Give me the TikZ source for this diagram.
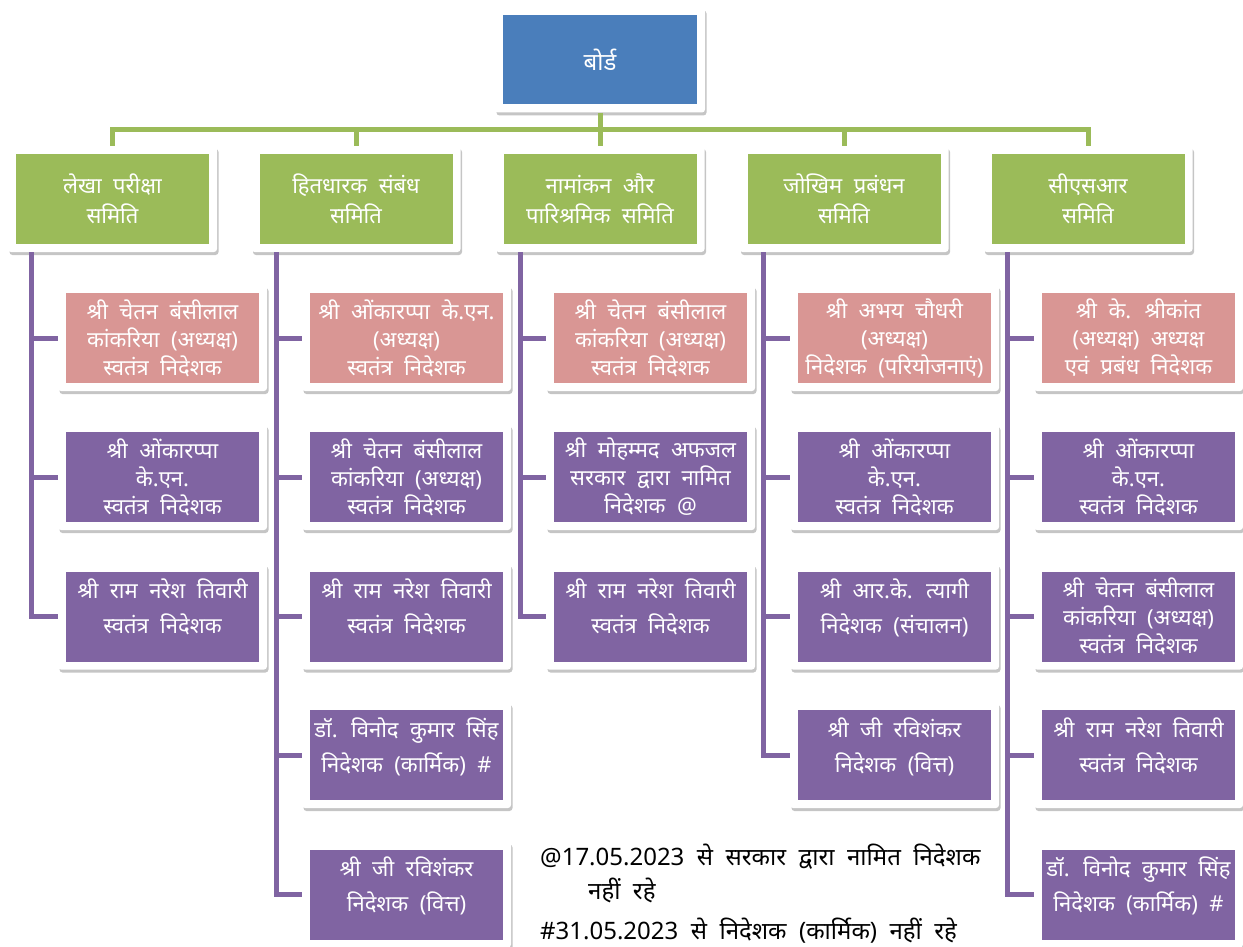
\documentclass[tikz,border=0pt]{standalone}
\usepackage{fontspec}
\setmainfont[Script=Devanagari, WordSpace=2]{Noto Sans}
\usetikzlibrary{shadows,calc}
\definecolor{bblue}{HTML}{4A7EBB}
\definecolor{cgreen}{HTML}{9BBB59}
\definecolor{mpink}{HTML}{D99694}
\definecolor{mpurple}{HTML}{8064A2}
\tikzset{
 frame/.style={fill=white, rounded corners=3pt,
   drop shadow={shadow xshift=1.5pt, shadow yshift=-3pt, opacity=0.45},
   minimum width=209pt, minimum height=106pt, inner sep=0pt, text=white,
   align=center, font=\fontsize{22}{28}\selectfont},
 fillin/.style={path picture={\fill[#1, sharp corners]
   ([shift={(8pt,8pt)}]path picture bounding box.south west) rectangle
   ([shift={(-8pt,-8pt)}]path picture bounding box.north east);}},
 boardbox/.style={frame, fillin=bblue, minimum width=210pt, minimum height=105pt,
   font=\fontsize{24}{30}\selectfont},
 comm/.style={frame, fillin=cgreen, font=\fontsize{22}{30}\selectfont},
 chair/.style={frame, fillin=mpink},
 memb/.style={frame, fillin=mpurple},
 two/.style={font=\fontsize{22}{35}\selectfont, text depth=20pt},
 gline/.style={draw=cgreen, line width=5pt},
 pline/.style={draw=mpurple, line width=5pt},
 note/.style={anchor=west, inner sep=0pt, text=black, font=\fontsize{24}{28}\selectfont},
}
\begin{document}
\begin{tikzpicture}[x=1pt, y=-1pt]
\useasboundingbox (0,0) rectangle (1243,947);
\clip (0,0) rectangle (1243,947);
\fill[white] (0,0) rectangle (1243,947);

% board
\node[boardbox] (board) at (600,60) {बोर्ड};

% committees
\node[comm] (c1) at (112.5,199) {लेखा परीक्षा\\समिति};
\node[comm] (c2) at (356,199) {हितधारक संबंध\\समिति};
\node[comm] (c3) at (600,199) {नामांकन और\\पारिश्रमिक समिति};
\node[comm] (c4) at (844,199) {जोखिम प्रबंधन\\समिति};
\node[comm] (c5) at (1088,199) {सीएसआर\\समिति};

% column 1
\node[chair] (m11) at (162.5,338) {श्री चेतन बंसीलाल\\कांकरिया (अध्यक्ष)\\स्वतंत्र निदेशक};
\node[memb] (m12) at (162.5,477) {श्री ओंकारप्पा\\के.एन.\\स्वतंत्र निदेशक};
\node[memb,two] (m13) at (162.5,616.5) {श्री राम नरेश तिवारी\\स्वतंत्र निदेशक};
% column 2
\node[chair] (m21) at (406.5,338) {श्री ओंकारप्पा के.एन.\\(अध्यक्ष)\\स्वतंत्र निदेशक};
\node[memb] (m22) at (406.5,477) {श्री चेतन बंसीलाल\\कांकरिया (अध्यक्ष)\\स्वतंत्र निदेशक};
\node[memb,two] (m23) at (406.5,616.5) {श्री राम नरेश तिवारी\\स्वतंत्र निदेशक};
\node[memb,two] (m24) at (406.5,755) {डॉ. विनोद कुमार सिंह\\निदेशक (कार्मिक) \#};
\node[memb,two] (m25) at (406.5,894.5) {श्री जी रविशंकर\\निदेशक (वित्त)};
% column 3
\node[chair] (m31) at (650.5,338) {श्री चेतन बंसीलाल\\कांकरिया (अध्यक्ष)\\स्वतंत्र निदेशक};
\node[memb] (m32) at (650.5,477) {श्री मोहम्मद अफजल\\सरकार द्वारा नामित\\निदेशक @};
\node[memb,two] (m33) at (650.5,616.5) {श्री राम नरेश तिवारी\\स्वतंत्र निदेशक};
% column 4
\node[chair] (m41) at (894.5,338) {श्री अभय चौधरी\\(अध्यक्ष)\\निदेशक (परियोजनाएं)};
\node[memb] (m42) at (894.5,477) {श्री ओंकारप्पा\\के.एन.\\स्वतंत्र निदेशक};
\node[memb,two] (m43) at (894.5,616.5) {श्री आर.के. त्यागी\\निदेशक (संचालन)};
\node[memb,two] (m44) at (894.5,755) {श्री जी रविशंकर\\निदेशक (वित्त)};
% column 5
\node[chair] (m51) at (1138.5,338) {श्री के. श्रीकांत\\(अध्यक्ष) अध्यक्ष\\एवं प्रबंध निदेशक};
\node[memb] (m52) at (1138.5,477) {श्री ओंकारप्पा\\के.एन.\\स्वतंत्र निदेशक};
\node[memb] (m53) at (1138.5,616.5) {श्री चेतन बंसीलाल\\कांकरिया (अध्यक्ष)\\स्वतंत्र निदेशक};
\node[memb,two] (m54) at (1138.5,755) {श्री राम नरेश तिवारी\\स्वतंत्र निदेशक};
\node[memb,two] (m55) at (1138.5,894.5) {डॉ. विनोद कुमार सिंह\\निदेशक (कार्मिक) \#};

% green connectors
\coordinate (bus) at (600,130);
\draw[gline] (board.south) -- (bus);
\draw[gline] (bus) -| (c1.north);
\draw[gline] (bus) -| (c2.north);
\draw[gline] (bus) -- (c3.north);
\draw[gline] (bus) -| (c4.north);
\draw[gline] (bus) -| (c5.north);

% purple connectors
\coordinate (v1) at ([xshift=-81pt]c1.south);
\coordinate (v2) at ([xshift=-80pt]c2.south);
\coordinate (v3) at ([xshift=-80pt]c3.south);
\coordinate (v4) at ([xshift=-81pt]c4.south);
\coordinate (v5) at ([xshift=-81pt]c5.south);
\foreach \r in {1,2,3} {\draw[pline] (v1) |- (m1\r.west);}
\foreach \r in {1,2,3,4,5} {\draw[pline] (v2) |- (m2\r.west);}
\foreach \r in {1,2,3} {\draw[pline] (v3) |- (m3\r.west);}
\foreach \r in {1,2,3,4} {\draw[pline] (v4) |- (m4\r.west);}
\foreach \r in {1,2,3,4,5} {\draw[pline] (v5) |- (m5\r.west);}

% notes
\node[note] (n1) at (540,857) {@17.05.2023 से सरकार द्वारा नामित निदेशक};
\node[note] (n2) at (588,890) {नहीं रहे};
\node[note] (n3) at (540,931) {\#31.05.2023 से निदेशक (कार्मिक) नहीं रहे};
\end{tikzpicture}
\end{document}
